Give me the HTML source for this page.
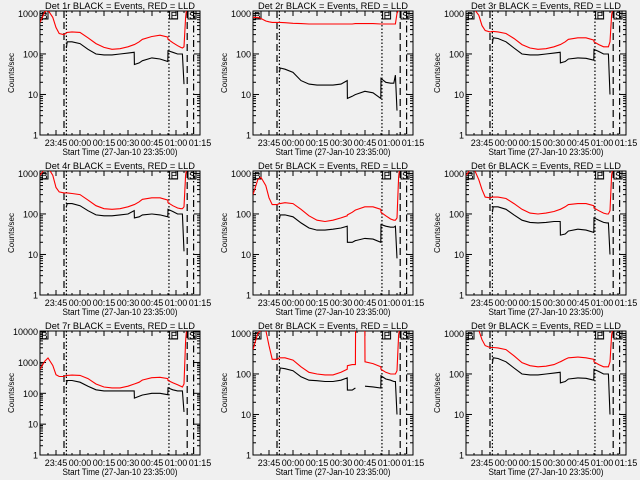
<!DOCTYPE html>
<html><head><meta charset="utf-8"><style>
html,body{margin:0;padding:0;background:#f0f0f0}
svg{display:block}
text{font-family:"Liberation Sans",sans-serif;fill:#000}
</style></head><body>
<svg id="chart" width="640" height="480" viewBox="0 0 640 480" xmlns="http://www.w3.org/2000/svg"></svg>
<script>
// Shared time axis, minutes after 23:35:00
const times = [0,3,5,8,10,12,15,16.5,17,20,25,30,35,40,45,50,55,58.9,59,62,64,64.1,69.9,70,75,79.9,80,83,86,88,89,90,91,91.5];
const N = null;
const panelTitles = ["Det 1r","Det 2r","Det 3r","Det 4r","Det 5r","Det 6r","Det 7r","Det 8r","Det 9r"];
const yMaxDecade = [3,3,3,3,3,3,4,3,3];
const xTickLabels = ["23:45","00:00","00:15","00:30","00:45","01:00","01:15"];
const xTickMinutes = [10,25,40,55,70,85,100];
const markerMinutes = [15,16.5,80.6,92,96];
const red1 = [600,1100,1200,800,450,320,300,330,340,350,340,250,180,145,130,135,150,170,170,200,230,230,270,270,290,260,230,190,160,145,140,150,800,1200];
const blk1 = [N,N,N,N,N,N,N,140,200,200,180,130,100,95,95,100,105,110,55,60,68,68,80,80,75,65,120,110,100,100,100,18,N,N];
const red2 = [800,800,750,650,620,600,600,600,600,590,570,560,550,550,550,550,550,550,550,550,560,560,560,560,560,550,550,550,550,550,550,1000,1200,1200];
const blk2 = [N,N,N,N,N,N,N,35,45,42,35,22,18,17,17,17,18,22,8,9,10,10,12,12,11,8,25,20,19,19,30,4,N,N];
const red3 = [1200,1500,1300,900,500,380,350,360,360,350,320,240,170,140,130,135,150,170,170,200,230,230,250,250,250,220,200,170,150,150,150,200,900,1200];
const blk3 = [N,N,N,N,N,N,N,180,250,240,200,140,100,95,95,100,105,110,60,65,75,75,80,80,78,70,130,115,100,100,100,10,N,N];
const red4 = [900,1300,1400,900,450,350,330,330,330,320,300,220,160,135,130,135,150,170,170,200,230,230,250,250,250,220,190,160,140,135,135,150,900,1200];
const blk4 = [N,N,N,N,N,N,N,150,180,180,160,120,95,90,90,95,100,120,80,85,95,95,100,100,95,85,130,115,100,100,100,12,N,N];
const red5 = [300,700,800,500,250,170,170,180,180,190,180,130,90,70,65,70,80,90,95,110,125,125,150,150,150,130,110,90,75,70,70,80,800,1200];
const blk5 = [N,N,N,N,N,N,N,75,95,95,85,60,45,40,40,42,45,50,20,20,22,22,25,25,24,20,55,50,47,47,50,8,N,N];
const red6 = [900,1300,1300,700,400,260,250,260,260,260,240,180,130,105,100,105,115,130,130,150,170,170,180,180,180,160,140,120,105,100,100,120,900,1200];
const blk6 = [N,N,N,N,N,N,N,110,150,150,130,95,70,62,60,62,65,65,30,32,38,38,42,42,40,35,80,70,62,60,60,10,N,N];
const red7 = [600,1100,1400,800,400,350,350,380,380,390,380,300,200,160,150,150,170,200,200,230,270,270,320,320,330,300,260,220,190,170,160,200,5000,10000];
const blk7 = [N,N,N,N,N,N,N,200,260,260,230,170,130,120,120,120,120,120,70,80,88,88,100,100,100,90,150,130,120,120,120,25,N,N];
const red8 = [400,1000,1200,1200,500,230,230,250,250,250,220,150,110,100,95,95,110,130,160,170,170,2000,2000,200,180,150,130,110,100,100,100,120,900,1200];
const blk8 = [N,N,N,N,N,N,N,100,140,135,120,85,70,68,65,65,70,80,40,40,45,N,N,50,48,45,90,75,70,65,65,10,N,N];
const red9 = [2000,2500,2000,1200,700,500,450,450,450,440,400,280,190,160,150,155,170,200,200,230,250,250,260,260,250,230,200,170,150,150,150,200,900,1200];
const blk9 = [N,N,N,N,N,N,N,180,250,240,200,140,100,95,95,100,105,110,60,65,75,75,80,80,78,70,130,115,100,100,100,10,N,N];
const reds = [red1,red2,red3,red4,red5,red6,red7,red8,red9];
const blks = [blk1,blk2,blk3,blk4,blk5,blk6,blk7,blk8,blk9];

const NS = "http://www.w3.org/2000/svg";
const svg = document.getElementById("chart");
function mk(tag, attrs, parent){const e=document.createElementNS(NS,tag);for(const k in attrs)e.setAttribute(k,attrs[k]);parent.appendChild(e);return e;}

for(let p=0;p<9;p++){
  const ox=(p%3)*213, oy=Math.floor(p/3)*160;
  const L=ox+40, R=ox+200, T=oy+11, B=oy+135;
  const dec=yMaxDecade[p];
  const yTopLog = dec + (dec===3?0.06:0.02);
  const xs=m=>L+m*1.6;
  const ys=v=>B-(Math.log10(v))/yTopLog*(B-T);
  const g=mk("g",{},svg);
  
  
  const cp=mk("clipPath",{id:"cp"+p},g);
  mk("rect",{x:L,y:T,width:R-L,height:B-T},cp);
  const tt=mk("text",{x:(L+R)/2,y:oy+9,"text-anchor":"middle","font-size":"9.5",textLength:"150",lengthAdjust:"spacingAndGlyphs"},g);
  tt.textContent=panelTitles[p]+" BLACK = Events, RED = LLD";
  
  
  const box=mk("rect",{x:L,y:T,width:R-L,height:B-T,fill:"none",stroke:"#000","stroke-width":"1"},g);
  
  
  for(let d=0;d<=dec;d++){
    const y=ys(Math.pow(10,d));
    mk("line",{x1:L,x2:L+6,y1:y,y2:y,stroke:"#000"},g);
    mk("line",{x1:R-6,x2:R,y1:y,y2:y,stroke:"#000"},g);
    const lb=mk("text",{x:L-2,y:y+3.5,"text-anchor":"end","font-size":"9"},g);
    lb.textContent=String(Math.pow(10,d));
    
    
    if(d<dec){for(let k=2;k<10;k++){const yy=ys(k*Math.pow(10,d));
      mk("line",{x1:L,x2:L+3,y1:yy,y2:yy,stroke:"#000"},g);
      mk("line",{x1:R-3,x2:R,y1:yy,y2:yy,stroke:"#000"},g);}}
  }
  const yl=mk("text",{x:0,y:0,"text-anchor":"middle","font-size":"8",transform:`translate(${ox+14},${(T+B)/2}) rotate(-90)`},g);
  yl.textContent="Counts/sec";
  
  
  for(let i=0;i<xTickMinutes.length;i++){
    const x=xs(xTickMinutes[i]);
    mk("line",{x1:x,x2:x,y1:B,y2:B-5,stroke:"#000"},g);
    mk("line",{x1:x,x2:x,y1:T,y2:T+5,stroke:"#000"},g);
    const lb=mk("text",{x:x,y:oy+146,"text-anchor":"middle","font-size":"9"},g);
    lb.textContent=xTickLabels[i];
    
    
  }
  for(let m=0;m<=100;m+=5){const x=xs(m);mk("line",{x1:x,x2:x,y1:B,y2:B-2,stroke:"#000"},g);mk("line",{x1:x,x2:x,y1:T,y2:T+2,stroke:"#000"},g);}
  const xl=mk("text",{x:(L+R)/2,y:oy+155,"text-anchor":"middle","font-size":"9",textLength:"115",lengthAdjust:"spacingAndGlyphs"},g);
  xl.textContent="Start Time (27-Jan-10 23:35:00)";
  
  
  const dashes=["7,4","1.5,2","1.5,2","7,4","7,3,1.5,3"];
  for(let i=0;i<markerMinutes.length;i++){
    const x=xs(markerMinutes[i]);
    const ln=mk("line",{x1:x,x2:x,y1:T,y2:B,stroke:"#000","stroke-width":"1.2","stroke-dasharray":dashes[i]},g);
    
    
  }
  const boxes=[["B",0],["E",81],["S",92.5]];
  for(const [ch,m] of boxes){
    const x=xs(m);
    const r=mk("rect",{x:x,y:T,width:8,height:8,fill:"none",stroke:"#000"},g);
    
    
    const t=mk("text",{x:x+1,y:T+8,"font-size":"10"},g);
    t.textContent=ch;
    
    
  }
  const series=[[reds[p],"#ff0000","lld-series"],[blks[p],"#000000","events-series"]];
  for(const [arr,col,name] of series){
    let d="",pen=false;
    for(let i=0;i<times.length;i++){
      const v=arr[i];
      if(v==null){pen=false;continue;}
      d+=(pen?"L":"M")+xs(times[i]).toFixed(1)+","+ys(v).toFixed(1);
      pen=true;
    }
    const pa=mk("path",{d:d,fill:"none",stroke:col,"stroke-width":"1.1","clip-path":`url(#cp${p})`},g);
    
    
  }
}
</script>
</body></html>
